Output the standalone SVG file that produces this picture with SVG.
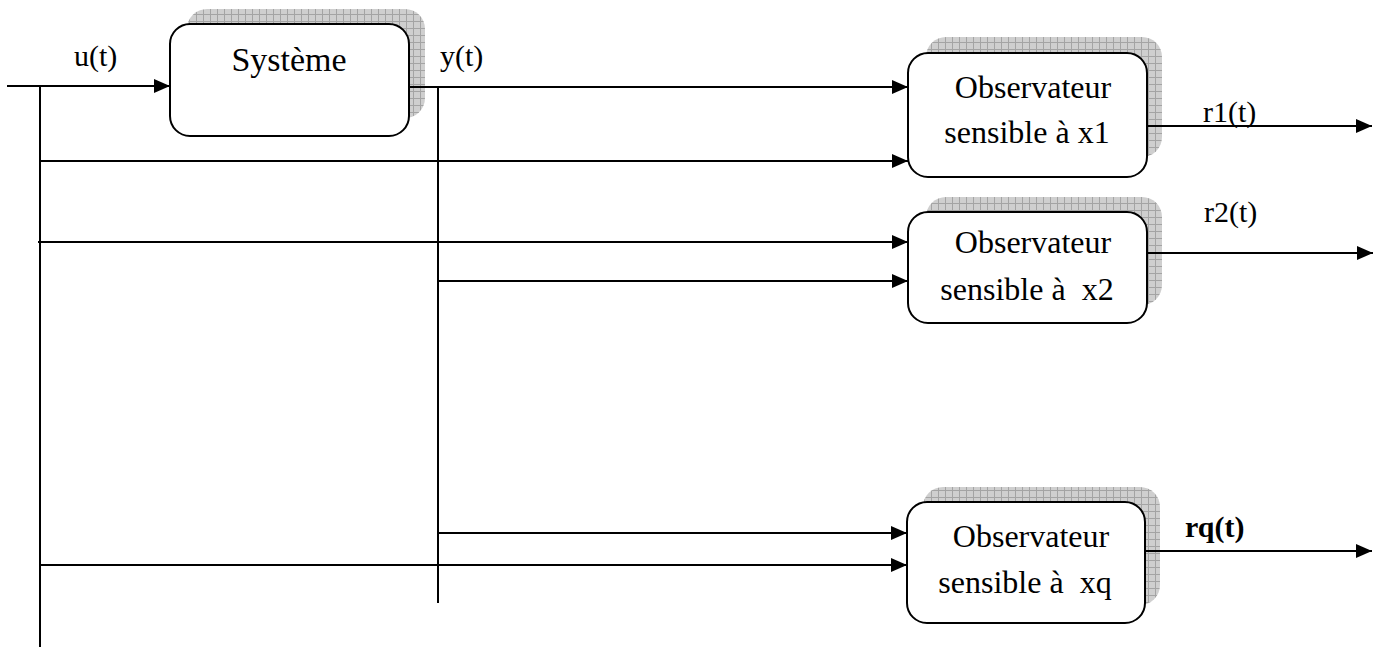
<svg xmlns="http://www.w3.org/2000/svg" width="1386" height="647" viewBox="0 0 1386 647">
<style>
.shadow{fill:url(#grid);stroke:none}
.box{fill:#ffffff;stroke:#000;stroke-width:2}
.ln{fill:none;stroke:#000;stroke-width:2}
.arr{fill:none;stroke:#000;stroke-width:2;marker-end:url(#ah)}
.t{font-family:"Liberation Serif","Times New Roman",serif;font-size:32px;fill:#000}
.lb{font-family:"Liberation Serif","Times New Roman",serif;font-size:30px;fill:#000}
.bold{font-weight:bold}
</style>
<defs>
<pattern id="grid" width="7" height="7" patternUnits="userSpaceOnUse">
<rect width="7" height="7" fill="#cfcfcf"/>
<path d="M0 0.5H7M0.5 0V7" stroke="#a4a4a4" stroke-width="1"/>
</pattern>
<marker id="ah" markerUnits="userSpaceOnUse" markerWidth="16" markerHeight="14" refX="16" refY="7" orient="auto">
<path d="M0 0L16 7L0 14Z" fill="#000"/>
</marker>
</defs>
<g id="shadows">
<rect class="shadow" x="187" y="9" width="238" height="109" rx="20"/>
<rect class="shadow" x="926" y="37" width="236" height="120" rx="20"/>
<rect class="shadow" x="926" y="197" width="236" height="108" rx="20"/>
<rect class="shadow" x="923" y="487" width="237" height="118" rx="20"/>
</g>
<g id="connectors">
<line class="arr" x1="7" y1="86" x2="170" y2="86"/>
<line class="ln" x1="40" y1="86" x2="40" y2="647"/>
<line class="ln" x1="438" y1="86" x2="438" y2="603"/>
<line class="arr" x1="409" y1="87" x2="908" y2="87"/>
<line class="arr" x1="40" y1="161" x2="908" y2="161"/>
<line class="arr" x1="38" y1="242" x2="908" y2="242"/>
<line class="arr" x1="437" y1="281" x2="908" y2="281"/>
<line class="arr" x1="437" y1="533" x2="907" y2="533"/>
<line class="arr" x1="40" y1="565" x2="907" y2="565"/>
<line class="arr" x1="1147" y1="126" x2="1372" y2="126"/>
<line class="arr" x1="1147" y1="253" x2="1373" y2="253"/>
<line class="arr" x1="1145" y1="551" x2="1372" y2="551"/>
</g>
<g id="systeme">
<rect class="box" x="170" y="24" width="239" height="112" rx="20"/>
<text class="t" x="289" y="71" text-anchor="middle" style="font-size:34px">Système</text>
</g>
<g id="obs1">
<rect class="box" x="908" y="53" width="239" height="124" rx="20"/>
<text class="t" x="1033" y="98" text-anchor="middle">Observateur</text>
<text class="t" x="1027" y="143" text-anchor="middle">sensible à x1</text>
</g>
<g id="obs2">
<rect class="box" x="908" y="212" width="239" height="111" rx="20"/>
<text class="t" x="1033" y="253" text-anchor="middle">Observateur</text>
<text class="t" x="1027" y="300" text-anchor="middle" xml:space="preserve">sensible à  x2</text>
</g>
<g id="obsq">
<rect class="box" x="907" y="502" width="238" height="121" rx="20"/>
<text class="t" x="1031" y="547" text-anchor="middle">Observateur</text>
<text class="t" x="1025" y="593" text-anchor="middle" xml:space="preserve">sensible à  xq</text>
</g>
<g id="labels">
<text class="lb" x="74" y="66">u(t)</text>
<text class="lb" x="440" y="66">y(t)</text>
<text class="lb" x="1203" y="122">r1(t)</text>
<text class="lb" x="1204" y="222">r2(t)</text>
<text class="lb bold" x="1185" y="537">rq(t)</text>
</g>
</svg>
